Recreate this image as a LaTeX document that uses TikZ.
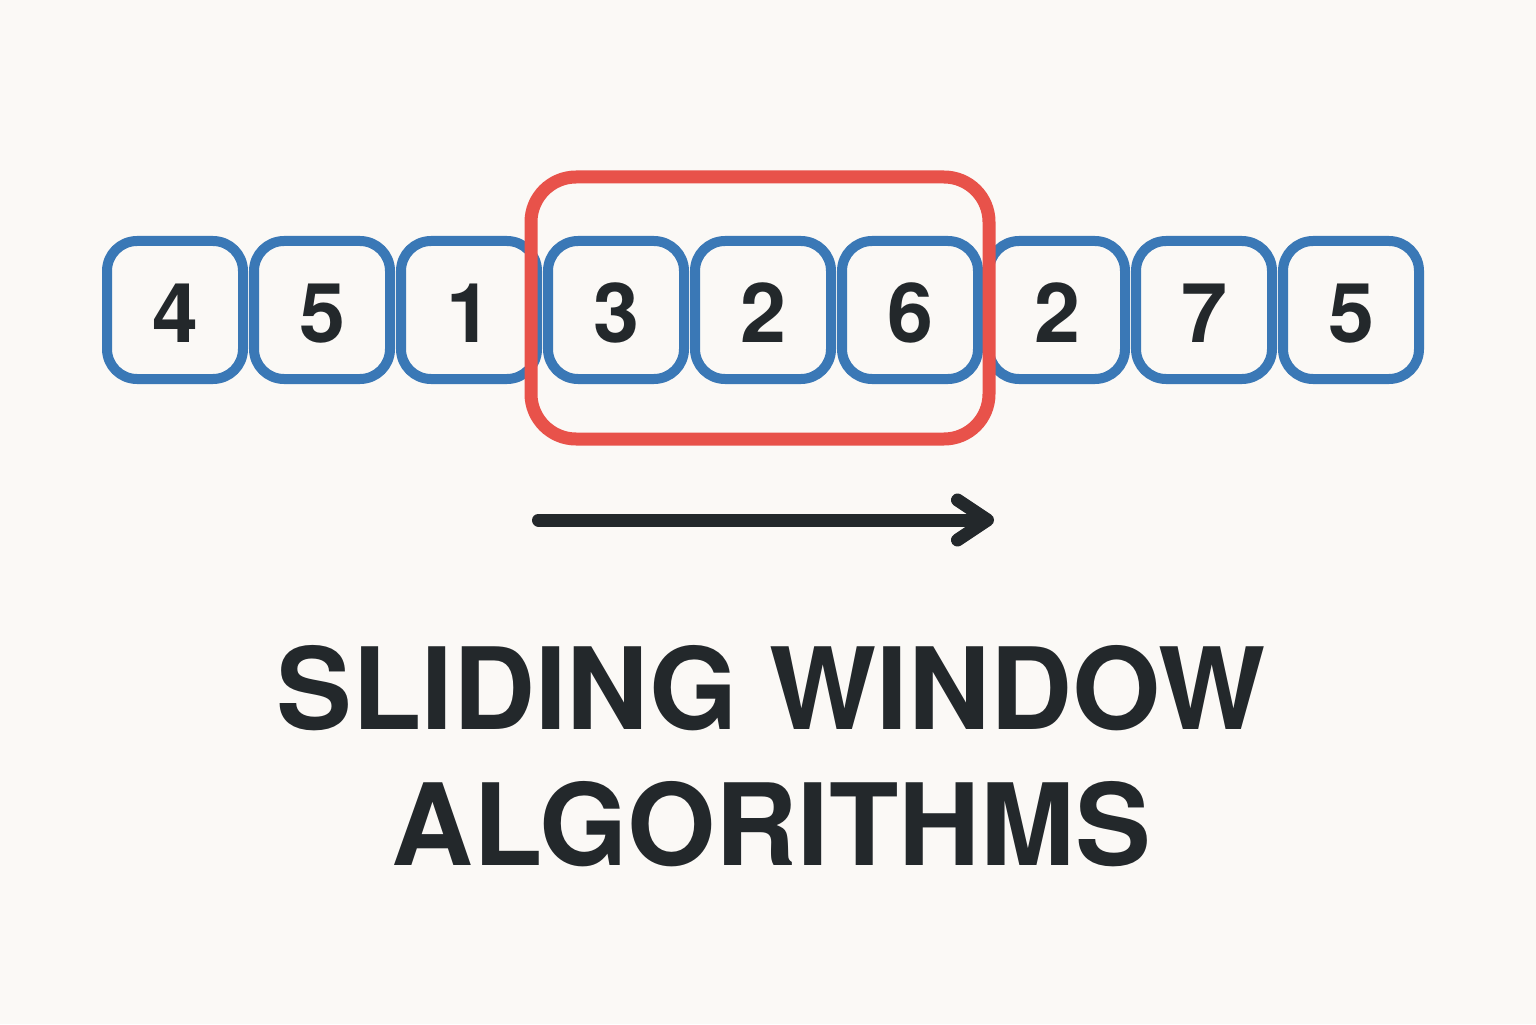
\documentclass[tikz,border=0pt]{standalone}
\usepackage{fontspec}
\setmainfont{TeX Gyre Heros}
\usepackage{tikz}
\usetikzlibrary{positioning}
\usetikzlibrary{arrows.meta}
\usetikzlibrary{calc}
\definecolor{bgcol}{HTML}{FBF9F6}
\definecolor{cellblue}{HTML}{3A78B6}
\definecolor{winred}{HTML}{E8524A}
\definecolor{inkcol}{HTML}{23282B}

\begin{document}
\begin{tikzpicture}[cell/.style={draw=cellblue, line width=0.1cm, rectangle, rounded corners=0.3cm,
				minimum width=1.36cm, minimum height=1.38cm, fill=bgcol, text=inkcol,
				text height=0.64cm, text depth=0cm, font=\fontsize{23.5}{23.5}\selectfont\bfseries},
				every text node part/.style={align=center}]
				\fill[bgcol] (0, 0) rectangle (15.36, 10.24);
				\useasboundingbox (0, 0) rectangle (15.36, 10.24);
				
				\node[cell](cell1) at (1.75, 7.14) {4};
				\node[cell, right=0.01cm of cell1](cell2) {5};
				\node[cell, right=0.01cm of cell2](cell3) {1};
				\node[cell, right=0.01cm of cell3](cell4) {3};
				\node[cell, right=0.01cm of cell4](cell5) {2};
				\node[cell, right=0.01cm of cell5](cell6) {6};
				\node[cell, right=0.01cm of cell6](cell7) {2};
				\node[cell, right=0.01cm of cell7](cell8) {7};
				\node[cell, right=0.01cm of cell8](cell9) {5};
				
				% the window over three cells
				\node[draw=winred, line width=0.13cm, rectangle, rounded corners=0.45cm, minimum width=4.58cm,
					minimum height=2.62cm](window) at ($(cell5)+(-0.03, 0.02)$) {};
				
				\coordinate (slidestart) at (5.385, 5.04);
				\coordinate (slideend) at (9.94, 5.04);
				\draw [-{Straight Barb[length=0.3cm, width=0.4cm, round]}, line width=0.13cm, line cap=round,
					draw=inkcol] (slidestart) -- (slideend);
				
				\node[text=inkcol, font=\fontsize{32.3}{38.7}\selectfont\bfseries](title) at (7.71, 2.68)
					{SLIDING WINDOW\\ALGORITHMS};
			\end{tikzpicture}
\end{document}
